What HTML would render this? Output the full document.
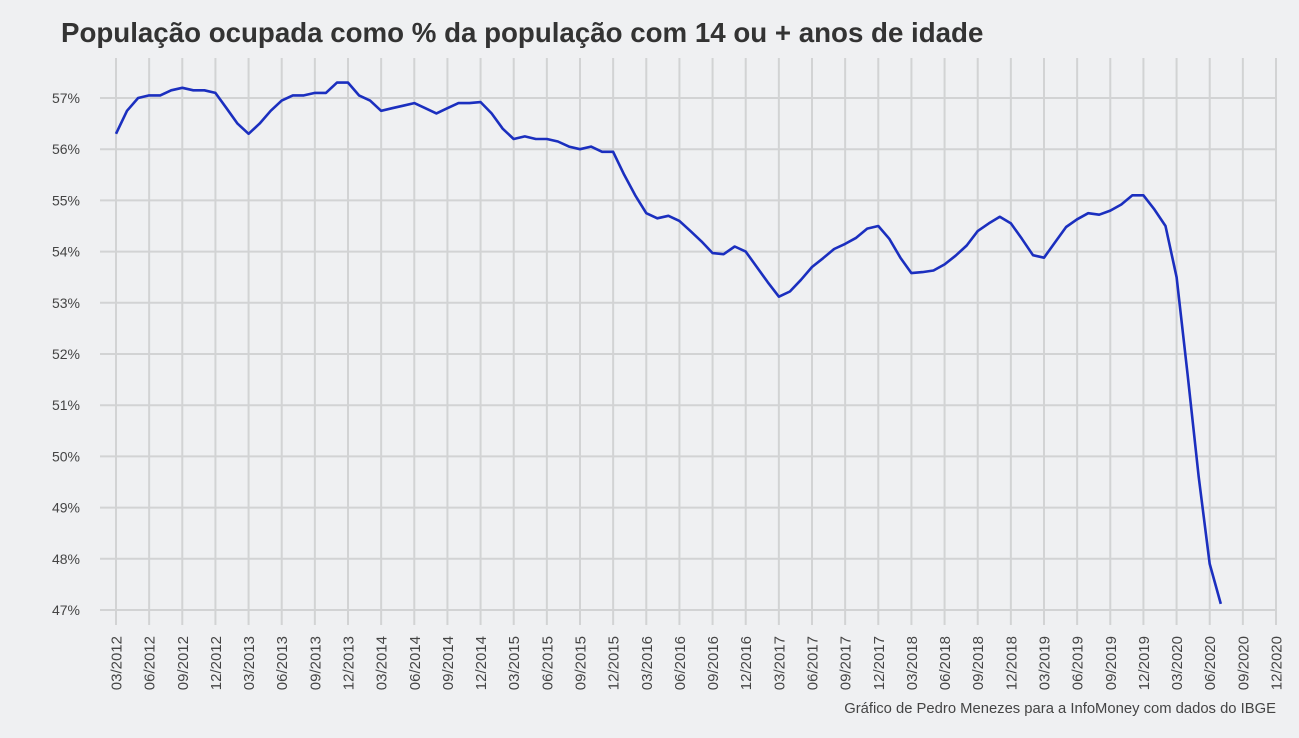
<!DOCTYPE html>
<html><head><meta charset="utf-8"><style>
html,body{margin:0;padding:0;background:#eff0f2;}
svg{display:block;font-family:"Liberation Sans",sans-serif;}
</style></head><body>
<svg id="s" width="1299" height="738" viewBox="0 0 1299 738">
<rect width="1299" height="738" fill="#eff0f2"/>
<text x="61" y="42" font-size="27.7" font-weight="bold" fill="#333">População ocupada como % da população com 14 ou + anos de idade</text>
<g id="grid"></g>
<polyline id="line" fill="none" stroke="#1b2fbf" stroke-width="2.6" stroke-linejoin="round"/>
<text x="1276" y="713" font-size="14.8" fill="#444" text-anchor="end">Gráfico de Pedro Menezes para a InfoMoney com dados do IBGE</text>
</svg>
<script>
var g=document.getElementById('grid'),ns='http://www.w3.org/2000/svg';
function el(t,a,txt){var e=document.createElementNS(ns,t);for(var k in a)e.setAttribute(k,a[k]);if(txt)e.textContent=txt;g.appendChild(e);return e;}
function Y(v){return 98+(57-v)*51.2;}
for(var p=47;p<=57;p++){el('line',{x1:100,x2:1276,y1:Y(p),y2:Y(p),stroke:'#d2d3d4','stroke-width':2});
el('text',{x:80,y:Y(p)+5,'font-size':14,fill:'#444','text-anchor':'end'},p+'%');}
var q=['03','06','09','12'];
for(var i=0;i<36;i++){var x=116+i*1160/35;
el('line',{x1:x,x2:x,y1:58,y2:625,stroke:'#d2d3d4','stroke-width':2});
var lab=q[i%4]+'/'+(2012+Math.floor(i/4));
el('text',{x:0,y:0,'font-size':15,fill:'#444','text-anchor':'end',transform:'translate('+(x+5.5)+',636) rotate(-90)'},lab);}
var d=[56.3,56.75,57.0,57.05,57.05,57.15,57.2,57.15,57.15,57.1,56.8,56.5,56.3,56.5,56.75,56.95,57.05,57.05,57.1,57.1,57.3,57.3,57.05,56.95,56.75,56.8,56.85,56.9,56.8,56.7,56.8,56.9,56.9,56.92,56.7,56.4,56.2,56.25,56.2,56.2,56.15,56.05,56.0,56.05,55.95,55.95,55.5,55.1,54.75,54.65,54.7,54.6,54.4,54.2,53.97,53.95,54.1,54.0,53.7,53.4,53.12,53.22,53.45,53.7,53.87,54.05,54.15,54.27,54.45,54.5,54.25,53.88,53.58,53.6,53.63,53.75,53.92,54.12,54.4,54.55,54.68,54.55,54.25,53.93,53.88,54.18,54.48,54.63,54.75,54.72,54.8,54.92,55.1,55.1,54.82,54.5,53.5,51.6,49.6,47.9,47.12];
var pts=d.map(function(v,i){return (116+i*1160/105).toFixed(1)+','+Y(v).toFixed(1);}).join(' ');
document.getElementById('line').setAttribute('points',pts);
</script>
</body></html>
